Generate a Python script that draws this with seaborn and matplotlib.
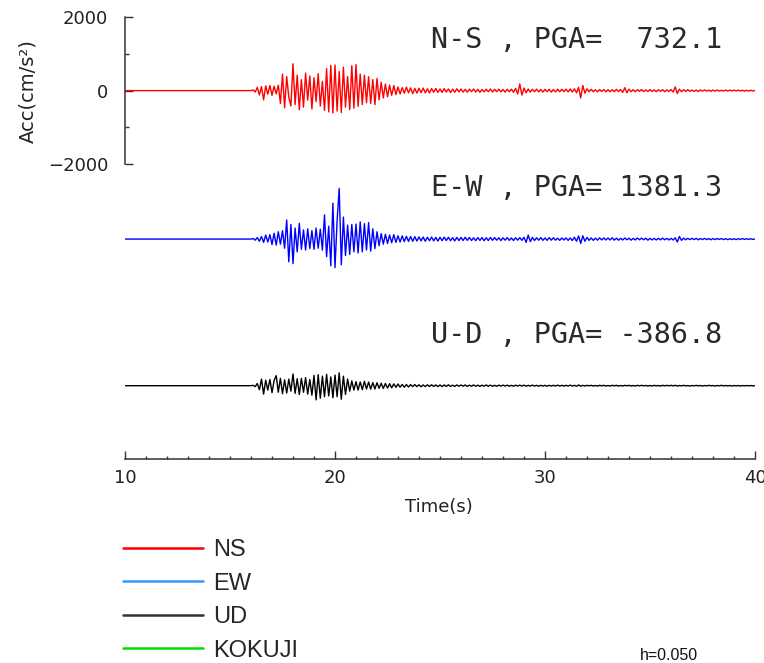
import numpy as np
import pandas as pd
import matplotlib
matplotlib.use("Agg")
import matplotlib.pyplot as plt
from matplotlib.lines import Line2D
from matplotlib.ticker import MultipleLocator, FixedLocator
from matplotlib.transforms import blended_transform_factory
import seaborn as sns

# ---------------------------------------------------------------------------
# Acceleration records (cm/s^2), sampled every 0.1 s from 10.0 s to 40.0 s
# ---------------------------------------------------------------------------
T_START = 10.0
DT = 0.1
PRE_EVENT = [0.0] * 60          # 10.0-15.9 s, quiet before the onset

NS_ACC = PRE_EVENT + [
    0, 20, -40, 90, -120, 110, -250, 130, -100, 140,                  # 16 s
    -130, 120, -90, 150, -350, 450, -470, 380, -180, -420,            # 17 s
    732.1, -380, 420, -520, 300, -450, 480, -260, 400, -500,          # 18 s
    350, -300, 460, -420, 250, -540, 600, -580, 690, -610,            # 19 s
    700, -560, 520, -600, 640, -450, 380, -520, 680, -480,            # 20 s
    710, -430, 450, -380, 420, -330, 380, -350, 300, -380,            # 21 s
    330, -250, 230, -200, 180, -170, 150, -130, 140, -110,            # 22 s
    100, -90, 80, -70, 95, -60, 75, -85, 60, -70,                     # 23 s
    65, -55, 70, -60, 50, -65, 55, -45, 60, -50,                      # 24 s
    45, -50, 55, -40, 45, -55, 40, -45, 50, -35,                      # 25 s
    45, -40, 35, -45, 40, -30, 45, -40, 35, -45,                      # 26 s
    30, -35, 40, -30, 45, -40, 35, -30, 40, -35,                      # 27 s
    30, -40, 35, -30, 40, -45, 60, -90, 180, -120,                    # 28 s
    70, -60, 45, -40, 35, -30, 40, -35, 30, -40,                      # 29 s
    35, -30, 35, -40, 30, -35, 40, -30, 35, -30,                      # 30 s
    40, -35, 45, -40, 50, -60, 90, -200, 140, -70,                    # 31 s
    50, -30, 35, -30, 25, -35, 30, -25, 30, -35,                      # 32 s
    25, -30, 25, -30, 35, -25, 30, -50, 80, -60,                      # 33 s
    40, -30, 25, -30, 25, -20, 30, -25, 20, -25,                      # 34 s
    30, -25, 20, -30, 25, -20, 25, -30, 20, -25,                      # 35 s
    30, -40, 100, -80, 40, -30, 25, -20, 25, -20,                     # 36 s
    15, -20, 15, -25, 20, -15, 20, -15, 15, -20,                      # 37 s
    15, -15, 20, -15, 10, -15, 15, -10, 15, -10,                      # 38 s
    15, -10, 15, -10, 10, -15, 10, -10, 10, -10,                      # 39 s
    5,                                                                # 40 s
]

EW_ACC = PRE_EVENT + [
    0, 15, -30, 40, -60, 70, -90, 110, -80, 120,                      # 16 s
    -150, 160, -165, 200, -140, 230, -250, 520, -620, 400,            # 17 s
    -670, 300, -350, 430, -280, 250, -300, 280, -260, 230,            # 18 s
    -280, 300, -250, 270, -300, 660, -480, 350, -730, 980,            # 19 s
    -780, 500, 1381.3, -700, 600, -450, 380, -420, 400, -350,         # 20 s
    410, -380, 470, -350, 420, -300, 450, -330, 280, -260,            # 21 s
    200, -180, 150, -140, 130, -120, 110, -100, 120, -90,             # 22 s
    90, -80, 85, -70, 75, -65, 70, -60, 65, -55,                      # 23 s
    60, -50, 55, -60, 50, -45, 55, -50, 45, -55,                      # 24 s
    50, -45, 55, -40, 50, -45, 40, -50, 45, -40,                      # 25 s
    45, -40, 50, -35, 45, -40, 35, -45, 40, -35,                      # 26 s
    40, -45, 35, -40, 45, -35, 40, -30, 35, -40,                      # 27 s
    35, -30, 40, -35, 30, -40, 35, -30, 40, -35,                      # 28 s
    50, -90, 110, -70, 45, -40, 35, -30, 40, -35,                     # 29 s
    30, -35, 40, -30, 35, -30, 25, -35, 30, -25,                      # 30 s
    30, -35, 30, -40, 50, -60, 85, -120, 90, -60,                     # 31 s
    45, -35, 30, -35, 25, -30, 35, -25, 30, -25,                      # 32 s
    30, -25, 35, -30, 25, -30, 20, -25, 30, -20,                      # 33 s
    25, -30, 20, -25, 30, -20, 25, -20, 25, -30,                      # 34 s
    20, -25, 20, -25, 20, -20, 25, -20, 20, -25,                      # 35 s
    20, -25, 35, -80, 70, -35, 25, -20, 20, -15,                      # 36 s
    20, -15, 20, -20, 15, -15, 20, -15, 15, -20,                      # 37 s
    15, -15, 15, -10, 15, -15, 10, -15, 10, -15,                      # 38 s
    10, -15, 10, -10, 15, -10, 10, -10, 10, -10,                      # 39 s
    5,                                                                # 40 s
]

UD_ACC = PRE_EVENT + [
    0, 10, -25, 60, -110, 180, -230, 150, -120, 170,                  # 16 s
    -190, 140, 275, -180, 200, -220, 160, -200, 180, -150,            # 17 s
    320, -210, 190, -240, 200, -180, 220, -230, 170, -260,            # 18 s
    280, -386.8, 300, -340, 260, -300, 310, -280, 240, -330,          # 19 s
    290, -300, 350, -370, 260, -240, 180, -150, 130, -120,            # 20 s
    110, -120, 100, -110, 120, -90, 100, -95, 85, -90,                # 21 s
    80, -70, 65, -75, 60, -65, 55, -60, 50, -45,                      # 22 s
    45, -40, 35, -40, 30, -35, 30, -25, 30, -25,                      # 23 s
    25, -30, 20, -25, 25, -20, 25, -20, 20, -25,                      # 24 s
    20, -25, 20, -20, 25, -20, 15, -20, 20, -15,                      # 25 s
    20, -15, 20, -20, 15, -15, 20, -15, 15, -20,                      # 26 s
    15, -15, 20, -15, 15, -15, 10, -15, 15, -10,                      # 27 s
    15, -10, 15, -15, 10, -15, 15, -10, 15, -10,                      # 28 s
    15, -15, 10, -10, 15, -10, 10, -15, 10, -10,                      # 29 s
    10, -15, 10, -10, 10, -10, 15, -10, 10, -10,                      # 30 s
    10, -10, 15, -10, 10, -15, 20, -15, 10, -10,                      # 31 s
    10, -5, 10, -10, 5, -10, 10, -5, 10, -10,                         # 32 s
    5, -10, 10, -5, 10, -10, 5, -10, 10, -5,                          # 33 s
    10, -10, 5, -10, 10, -5, 10, -5, 5, -10,                          # 34 s
    5, -10, 10, -5, 5, -10, 10, -5, 10, -5,                           # 35 s
    10, -5, 10, -10, 5, -5, 10, -5, 5, -10,                           # 36 s
    5, -5, 10, -5, 5, -10, 5, -5, 10, -5,                             # 37 s
    5, -10, 5, -5, 10, -5, 5, -5, 5, -10,                             # 38 s
    5, -5, 5, -10, 5, -5, 5, -5, 5, -5,                               # 39 s
    0,                                                                # 40 s
]

COMPONENTS = ["N-S", "E-W", "U-D"]
TRACE_COLORS = ["#ff0000", "#0000ff", "#000000"]
TRACE_SHIFT = [0.0, -4050.0, -8050.0]      # vertical stacking of the traces

LEGEND_LABELS = ["NS", "EW", "UD", "KOKUJI"]
LEGEND_COLORS = ["#ff0000", "#3399ff", "#333333", "#00e000"]

Y_TICKS = [-2000, 0, 2000]
X_TICKS = [10, 20, 30, 40]

# ---------------------------------------------------------------------------
records = [NS_ACC, EW_ACC, UD_ACC]
frames = []
for comp, acc, shift in zip(COMPONENTS, records, TRACE_SHIFT):
    acc = np.asarray(acc, dtype=float)
    frames.append(pd.DataFrame({
        "time": T_START + DT * np.arange(acc.size),
        "acc": acc,
        "plotted": acc + shift,
        "component": comp,
    }))
df = pd.concat(frames, ignore_index=True)

sns.set_style("ticks")
plt.rcParams["font.family"] = ["DejaVu Sans"]
ink = "#333333"

fig = plt.figure(figsize=(7.64, 6.63), dpi=100)
ax = fig.add_axes([125 / 764, 1 - 459 / 663, 630 / 764, (459 - 17.3) / 663])

sns.lineplot(data=df, x="time", y="plotted", hue="component",
             hue_order=COMPONENTS, palette=TRACE_COLORS,
             estimator=None, sort=False, legend=False,
             linewidth=1.0, ax=ax)

ax.set_xlim(10, 40)
ax.set_ylim(-10050, 2000)

# Axes frame: short acceleration scale on the left, time axis at the bottom
for side in ("top", "right"):
    ax.spines[side].set_visible(False)
ax.spines["left"].set_bounds(Y_TICKS[0], Y_TICKS[-1])
for side in ("left", "bottom"):
    ax.spines[side].set_color(ink)
    ax.spines[side].set_linewidth(1.1)

ax.yaxis.set_major_locator(FixedLocator(Y_TICKS))
ax.yaxis.set_minor_locator(FixedLocator([-1000, 1000]))
ax.xaxis.set_major_locator(FixedLocator(X_TICKS))
ax.xaxis.set_minor_locator(MultipleLocator(1))

ax.tick_params(axis="both", which="both", direction="in", colors=ink,
               labelcolor="#222222", width=1.0, labelsize=13,
               bottom=True, left=True, top=False, right=False)
ax.tick_params(axis="y", which="major", length=6, pad=12)
ax.tick_params(axis="y", which="minor", length=3)
ax.tick_params(axis="x", which="major", length=6, pad=7)
ax.tick_params(axis="x", which="minor", length=2.5)

ax.set_xlabel("Time(s)", fontsize=13, color="#222222")
ax.set_ylabel("Acc(cm/s²)", fontsize=14, color="#222222")
ax.xaxis.set_label_coords(0.498, -0.088)
ax.yaxis.set_label_coords(-0.1397, 10050 / 12050)

# Component name and peak ground acceleration above each trace
blend = blended_transform_factory(ax.transAxes, ax.transData)
for comp, acc, shift in zip(COMPONENTS, records, TRACE_SHIFT):
    acc = np.asarray(acc, dtype=float)
    pga = acc[np.argmax(np.abs(acc))]
    ax.text(0.948, shift + 1390, f"{comp} , PGA={pga:7.1f}",
            transform=blend, ha="right", va="center",
            fontsize=20.5, family="DejaVu Sans Mono", color="#2a2a2a")

handles = [Line2D([], [], color=c, linewidth=1.8) for c in LEGEND_COLORS]
fig.legend(handles, LEGEND_LABELS, loc="upper left",
           bbox_to_anchor=(123 / 764, 1 - 539 / 663),
           frameon=False, borderpad=0, borderaxespad=0,
           handlelength=3.4, handletextpad=0.42, labelspacing=0.49,
           prop={"family": "Liberation Sans", "size": 17})

fig.text(640 / 764, 1 - 655 / 663, "h=0.050", ha="left", va="center",
         fontsize=11.5, family="Liberation Sans", color="#111111")

fig.savefig("out.png", dpi=100)
